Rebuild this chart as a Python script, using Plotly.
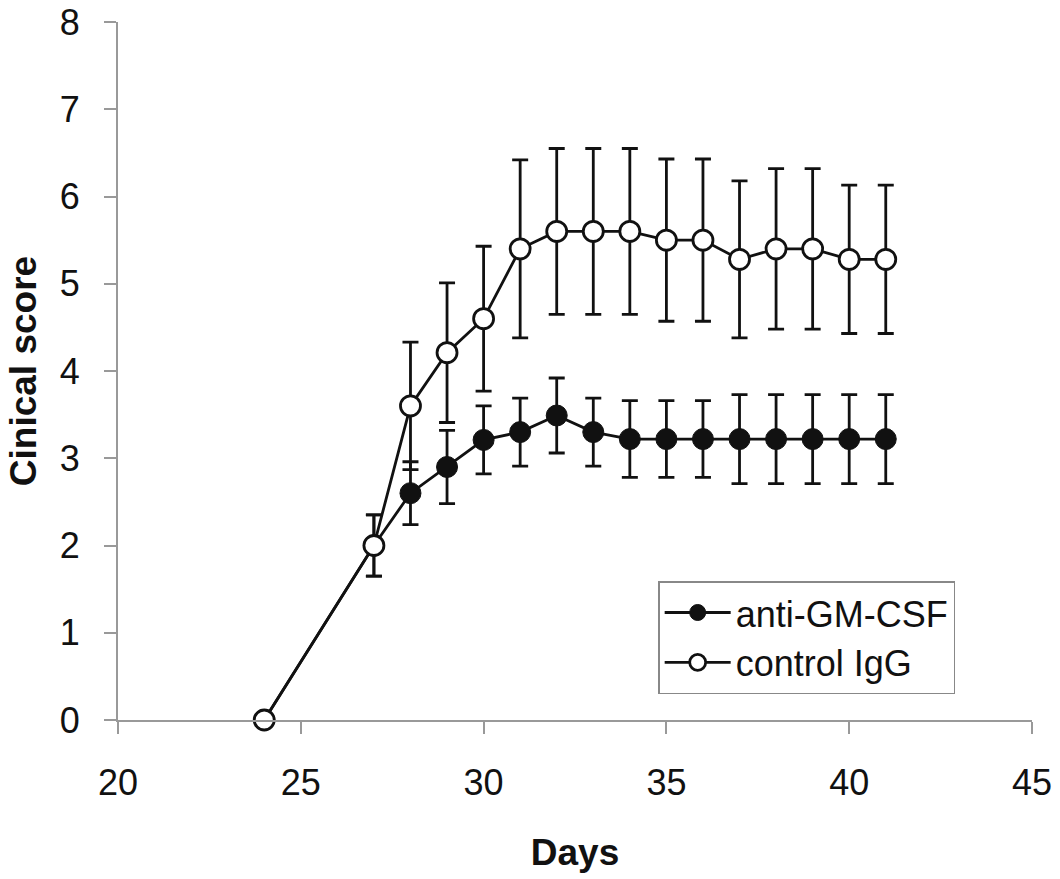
import plotly.graph_objects as go

days_anti = [24, 27, 28, 29, 30, 31, 32, 33, 34, 35, 36, 37, 38, 39, 40, 41]
score_anti = [0, 2.0, 2.6, 2.9, 3.21, 3.3, 3.49, 3.3, 3.22, 3.22, 3.22, 3.22, 3.22, 3.22, 3.22, 3.22]
sem_anti = [0, 0.35, 0.36, 0.42, 0.39, 0.39, 0.43, 0.39, 0.44, 0.44, 0.44, 0.51, 0.51, 0.51, 0.51, 0.51]

days_ctrl = [24, 27, 28, 29, 30, 31, 32, 33, 34, 35, 36, 37, 38, 39, 40, 41]
score_ctrl = [0, 2.0, 3.6, 4.21, 4.6, 5.4, 5.6, 5.6, 5.6, 5.5, 5.5, 5.28, 5.4, 5.4, 5.28, 5.28]
sem_ctrl = [0, 0.35, 0.73, 0.8, 0.83, 1.02, 0.95, 0.95, 0.95, 0.93, 0.93, 0.9, 0.92, 0.92, 0.85, 0.85]

font = "Liberation Sans, Arial, sans-serif"

fig = go.Figure()

fig.add_trace(
    go.Scatter(
        x=days_anti,
        y=score_anti,
        mode="lines+markers",
        name="anti-GM-CSF",
        line=dict(color="#111111", width=2.8),
        marker=dict(symbol="circle", size=21, color="#111111", line=dict(color="#111111", width=1)),
        error_y=dict(type="data", array=sem_anti, color="#111111", thickness=2.8, width=8),
        cliponaxis=False,
    )
)

fig.add_trace(
    go.Scatter(
        x=days_ctrl,
        y=score_ctrl,
        mode="lines+markers",
        name="control IgG",
        line=dict(color="#111111", width=2.8),
        marker=dict(symbol="circle", size=20, color="white", line=dict(color="#111111", width=2.8)),
        error_y=dict(type="data", array=sem_ctrl, color="#111111", thickness=2.8, width=8),
        cliponaxis=False,
    )
)

fig.update_layout(
    width=1060,
    height=879,
    margin=dict(l=118, r=28, t=22, b=159),
    plot_bgcolor="white",
    paper_bgcolor="white",
    font=dict(family=font, size=36, color="#111111"),
    showlegend=True,
    legend=dict(
        x=0.591,
        y=0.199,
        xanchor="left",
        yanchor="top",
        bordercolor="#888888",
        borderwidth=1.5,
        bgcolor="white",
        font=dict(size=36),
        itemwidth=66,
    ),
    xaxis=dict(
        range=[20, 45],
        tickvals=[20, 25, 30, 35, 40, 45],
        showgrid=False,
        zeroline=False,
        showline=True,
        linecolor="#999999",
        linewidth=2,
        ticks="outside",
        ticklen=12,
        tickcolor="#999999",
        tickwidth=1.5,
        ticklabelstandoff=18,
        automargin=False,
        title=dict(text="<b>Days</b>", font=dict(size=37), standoff=37),
    ),
    yaxis=dict(
        range=[0, 8],
        tickvals=[0, 1, 2, 3, 4, 5, 6, 7, 8],
        showgrid=False,
        zeroline=False,
        showline=True,
        linecolor="#999999",
        linewidth=2,
        ticks="outside",
        ticklen=12,
        tickcolor="#999999",
        tickwidth=1.5,
        ticklabelstandoff=17,
        automargin=False,
        title=dict(text="<b>Cinical score</b>", font=dict(size=37), standoff=12),
    ),
)

# drop the default page margin so the figure sits at the window's corner
fig.write_html(
    "out.html",
    config={"displayModeBar": False},
    post_script="document.body.style.margin = '0';",
)
